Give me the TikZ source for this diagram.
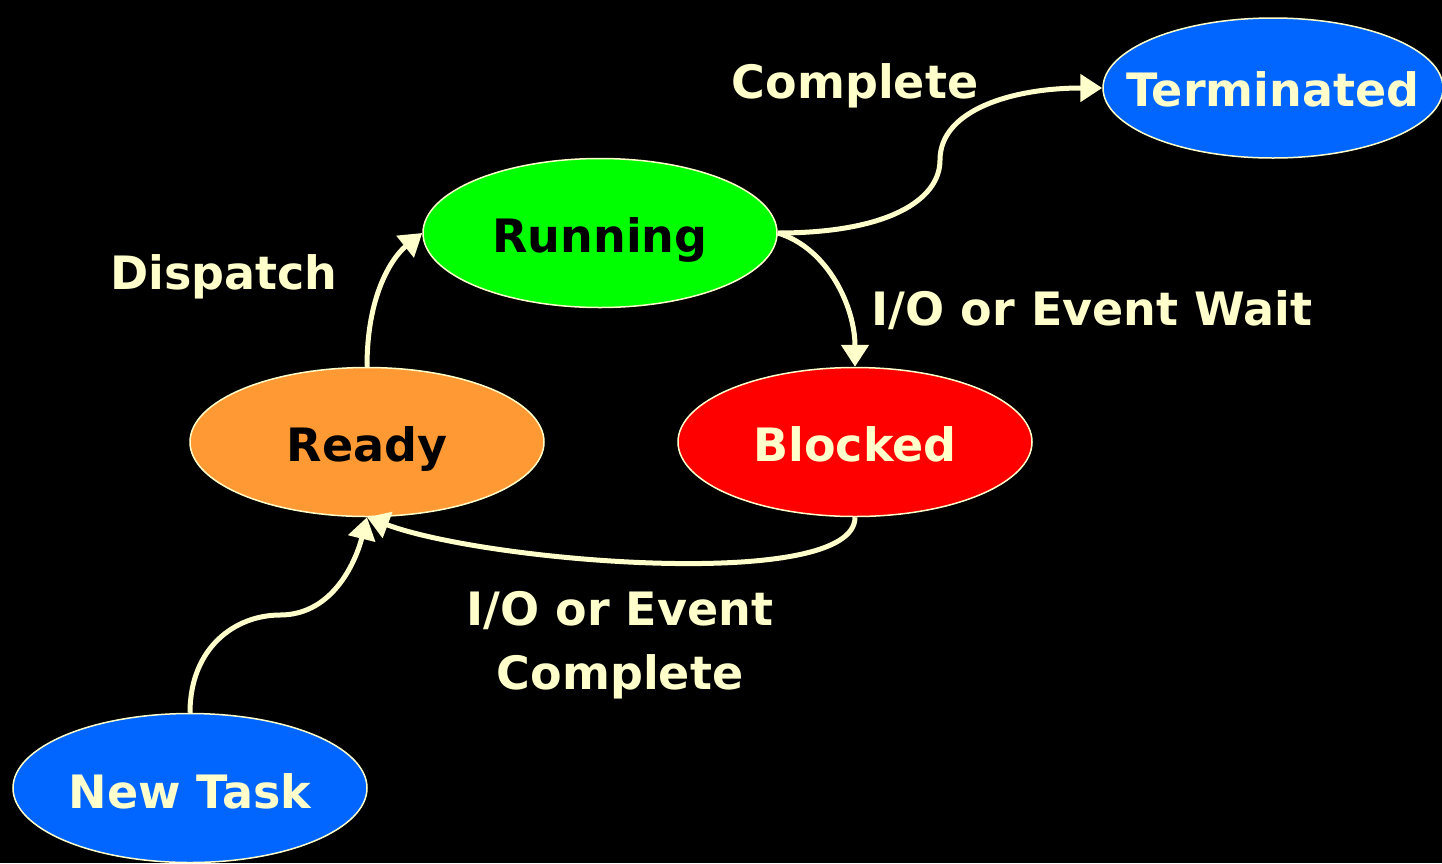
\documentclass[tikz,border=0pt]{standalone}
\usepackage{fontspec}
\setmainfont{DejaVu Sans}
\usetikzlibrary{arrows.meta,shapes.geometric}
\definecolor{cream}{HTML}{FFFFCC}
\definecolor{stblue}{HTML}{0066FF}
\definecolor{stgreen}{HTML}{00FF00}
\definecolor{storange}{HTML}{FF9933}
\definecolor{stred}{HTML}{FF0000}
\tikzset{
  state/.style={ellipse, draw=cream, line width=1.5pt, minimum width=354pt, minimum height=149pt,
    inner sep=0pt},
  stext/.style={font=\fontsize{46}{56}\selectfont\bfseries, inner sep=0pt, anchor=base},
  lbl/.style={text=cream, font=\fontsize{46}{64}\selectfont\bfseries, align=center, inner sep=0pt},
  flow/.style={draw=cream, line width=5pt, -{Triangle[length=22pt,width=27pt]}},
}
\begin{document}
\begin{tikzpicture}[x=1pt,y=-1pt]
\fill[black] (0,0) rectangle (1442,863);
\useasboundingbox (0,0) rectangle (1442,863);

% states (ellipse sizes fixed, text set on a baseline below the centre)
\node[state, fill=stblue, minimum width=340pt, minimum height=140pt] (term) at (1273,88) {};
\node[state, fill=stgreen] (run) at (600,233) {};
\node[state, fill=storange] (ready) at (367,442) {};
\node[state, fill=stred] (blk) at (855,442) {};
\node[state, fill=stblue] (new) at (190,788) {};

\node[stext, text=cream] (termt) at ([yshift=-18pt]term.center) {Terminated};
\node[stext, text=black] (runt) at ([yshift=-19pt]run.center) {Running};
\node[stext, text=black] (readyt) at ([yshift=-19pt]ready.center) {Ready};
\node[stext, text=cream] (blkt) at ([yshift=-19pt]blk.center) {Blocked};
\node[stext, text=cream] (newt) at ([yshift=-20pt]new.center) {New Task};

% transition labels
\node[lbl] (lcomp) at (855,86) {Complete};
\node[lbl] (ldisp) at (224,277) {Dispatch};
\node[lbl] (lwait) at (1092,310) {I/O or Event Wait};
\node[lbl] (lio) at (620,645) {I/O or Event\\Complete};

% transitions
\draw[flow] (ready.north) .. controls ++(0,-80) and ++(-25,20) .. (run.west);
\draw[flow] (run.east) .. controls ++(110,0) and ++(0,40) .. (940,160)
  .. controls ++(0,-50) and ++(-90,0) .. (term.west);
\draw[flow] (run.east) .. controls ++(50,15) and ++(0,-60) .. (blk.north);
\draw[flow] (blk.south) .. controls ++(0,75) and ++(120,45) .. (ready.south);
\draw[flow] (new.north) .. controls ++(0,-65) and ++(-45,0) .. (280,615)
  .. controls ++(55,0) and ++(-10,40) .. (ready.south);
\end{tikzpicture}
\end{document}
